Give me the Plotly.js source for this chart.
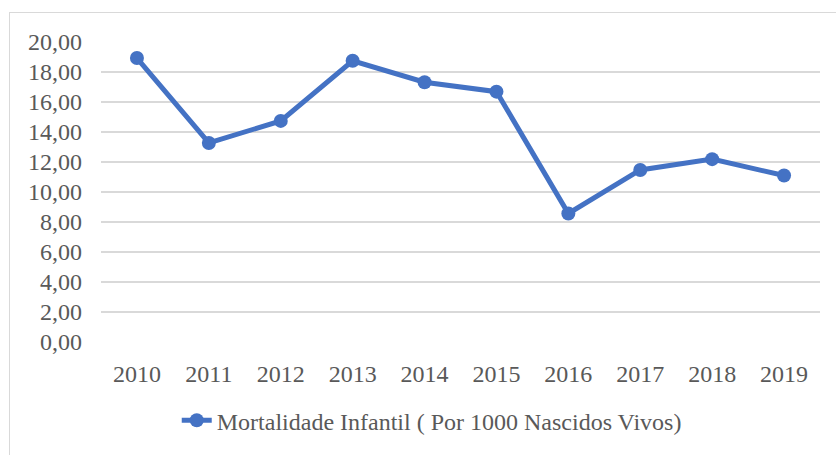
<!DOCTYPE html>
<html>
<head>
<meta charset="utf-8">
<script src="https://cdn.plot.ly/plotly-3.0.1.min.js"></script>
<style>
  html, body { margin: 0; padding: 0; background: #ffffff; }
  body { width: 836px; height: 455px; overflow: hidden; position: relative; }
  #chart { position: absolute; left: 0; top: 0; width: 836px; height: 455px; }
  #frame { position: absolute; left: 9px; top: 12px; width: 900px; height: 500px; border: 1px solid #d9d9d9; box-sizing: border-box; pointer-events: none; }
</style>
</head>
<body>
<div id="chart"></div>
<div id="frame"></div>
<script>
const years = ['2010', '2011', '2012', '2013', '2014', '2015', '2016', '2017', '2018', '2019'];
const mortalidade = [18.93, 13.27, 14.74, 18.75, 17.32, 16.69, 8.57, 11.47, 12.19, 11.10];
const seriesName = 'Mortalidade Infantil ( Por 1000 Nascidos Vivos)';
const yTicks = [0, 2, 4, 6, 8, 10, 12, 14, 16, 18, 20];

const FONT = 'Liberation Serif';

const trace = {
  x: years,
  y: mortalidade,
  type: 'scatter',
  mode: 'lines+markers',
  name: seriesName,
  line: { color: '#4472C4', width: 5 },
  marker: { color: '#4472C4', size: 14 },
  showlegend: true
};

const layout = {
  width: 836,
  height: 455,
  paper_bgcolor: 'rgba(0,0,0,0)',
  plot_bgcolor: 'rgba(0,0,0,0)',
  separators: ',.',
  margin: { l: 101, r: 16, t: 42, b: 109 },
  xaxis: {
    type: 'category',
    range: [-0.5, 9.5],
    automargin: false,
    showgrid: false,
    zeroline: false,
    showline: false,
    ticks: '',
    ticklabelstandoff: 15,
    tickfont: { family: FONT, size: 24, color: '#595959' }
  },
  yaxis: {
    range: [0, 20],
    automargin: false,
    tickvals: yTicks,
    tickformat: '.2f',
    showgrid: true,
    gridcolor: '#d9d9d9',
    gridwidth: 1.5,
    zeroline: false,
    showline: false,
    ticks: '',
    ticklabelstandoff: 18,
    tickfont: { family: FONT, size: 24, color: '#595959' }
  },
  showlegend: true,
  legend: {
    orientation: 'h',
    x: 0.46,
    xanchor: 'center',
    y: -0.262,
    yanchor: 'middle',
    font: { family: FONT, size: 24, color: '#595959' },
    bgcolor: 'rgba(0,0,0,0)'
  }
};

Plotly.newPlot('chart', [trace], layout, { displayModeBar: false, staticPlot: true });
</script>
</body>
</html>
